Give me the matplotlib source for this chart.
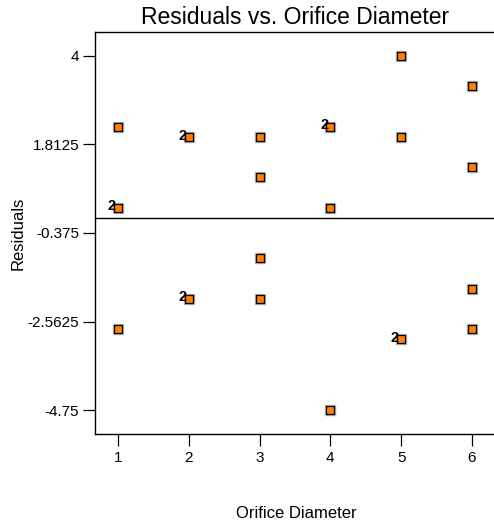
import matplotlib
matplotlib.use("Agg")
import matplotlib.pyplot as plt
from collections import Counter

# Data
diameter = [1, 1, 1, 1, 2, 2, 2, 2, 3, 3, 3, 3, 4, 4, 4, 4, 5, 5, 5, 5, 6, 6, 6, 6]
residuals = [2.25, 0.25, 0.25, -2.75,
             2.0, 2.0, -2.0, -2.0,
             2.0, 1.0, -1.0, -2.0,
             2.25, 2.25, 0.25, -4.75,
             4.0, 2.0, -3.0, -3.0,
             3.25, 1.25, -1.75, -2.75]
yticks = [4, 1.8125, -0.375, -2.5625, -4.75]
ytick_labels = ["4", "1.8125", "-0.375", "-2.5625", "-4.75"]
xticks = [1, 2, 3, 4, 5, 6]

plt.rcParams['font.family'] = ['Liberation Sans', 'DejaVu Sans']

W, H = 494, 525
fig = plt.figure(figsize=(W / 100, H / 100), dpi=100)
left, right, top, bottom = 95, 496, 32, 434
ax = fig.add_axes([left / W, 1 - bottom / H, (right - left) / W, (bottom - top) / H])

counts = Counter(zip(diameter, residuals))
pts = list(counts.keys())
xs = [p[0] for p in pts]
ys = [p[1] for p in pts]

# shadow
ax.plot(xs, ys, linestyle='none', marker='s', ms=7.3, mfc='#b0b0b0', mec='#b0b0b0', zorder=3)
ax.plot(xs, ys, linestyle='none', marker='s', ms=6, mfc='#ff8000', mec='black', mew=0.9, zorder=4)
for (x, y), c in counts.items():
    if c > 1:
        ax.annotate(str(c), (x, y), xytext=(-1.5, 1), textcoords='offset points',
                    ha='right', va='center', fontsize=10.5, fontweight='bold', zorder=5)

ax.axhline(0, color='black', lw=1.0, zorder=2)

ax.set_xlim(0.675, 6.34)
ax.set_ylim(-5.343, 4.593)
ax.set_xticks(xticks)
ax.set_xticklabels([str(v) for v in xticks])
ax.set_yticks(yticks)
ax.set_yticklabels(ytick_labels)
ax.tick_params(direction='out', length=8.5, width=0.9, labelsize=11, pad=3, colors='black')
ax.tick_params(axis='x', pad=4)
for s in ['left', 'top', 'bottom']:
    ax.spines[s].set_linewidth(1.0)
    ax.spines[s].set_color('black')
ax.spines['right'].set_visible(False)

ax.set_title("Residuals vs. Orifice Diameter", fontsize=16.5, pad=6)
ax.set_xlabel("Orifice Diameter", fontsize=12)
ax.set_ylabel("Residuals", fontsize=12)
ax.xaxis.set_label_coords((296 - left) / (right - left), -(513 - bottom) / (bottom - top))
ax.yaxis.set_label_coords(-(95 - 18) / (right - left), 0.5)
ax.xaxis.label.set_va('center')
ax.yaxis.label.set_va('center')

fig.savefig("out.png", dpi=100)
